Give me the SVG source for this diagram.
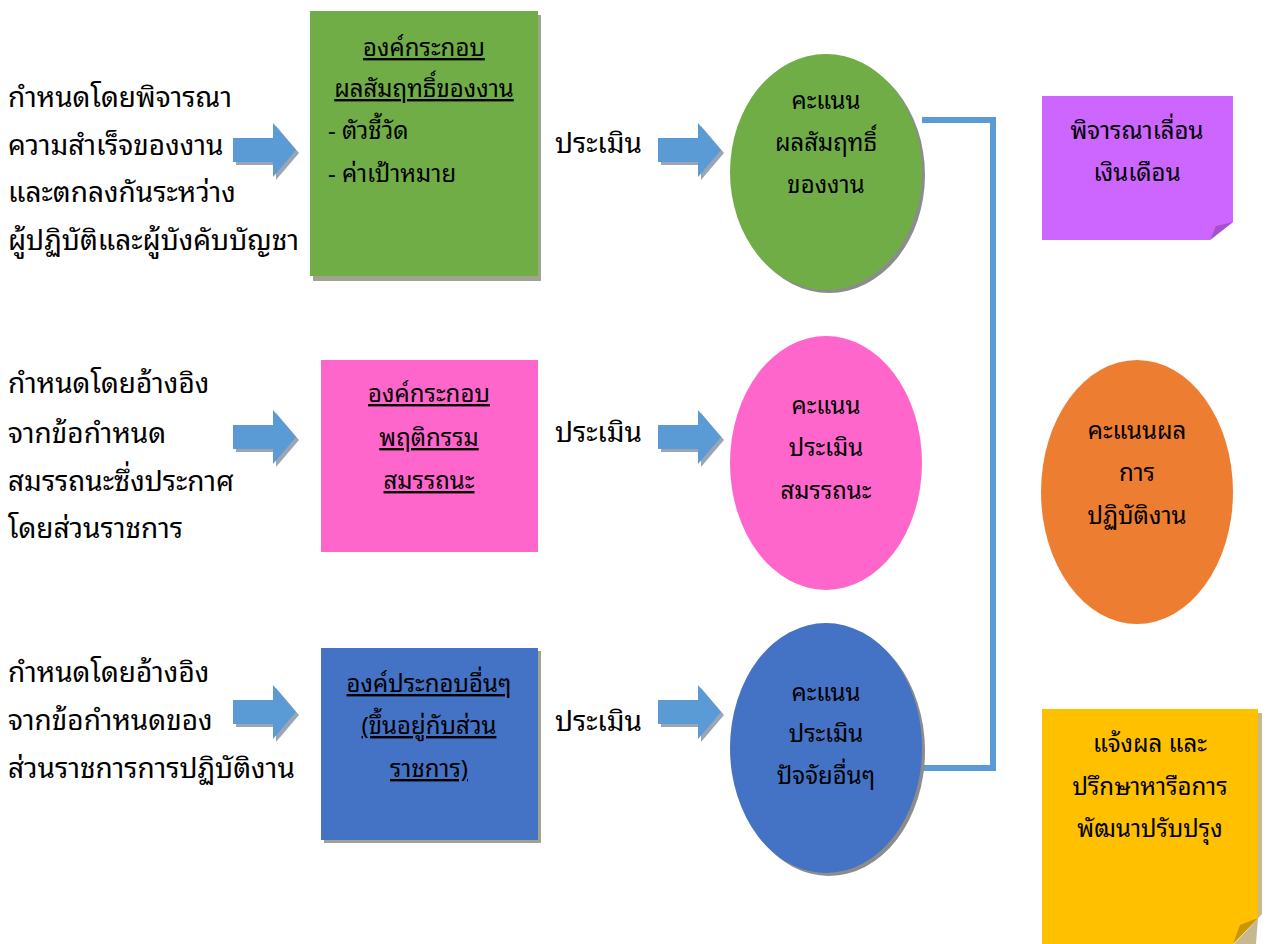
<svg xmlns="http://www.w3.org/2000/svg" width="1268" height="944" viewBox="0 0 1268 944">
<defs>
<style>
text{font-family:"Noto Sans Thai Looped","Loma","Garuda","Tahoma","Noto Sans Thai","Noto Sans","DejaVu Sans",sans-serif;fill:#000}
.l{font-size:28px}
.c{font-size:24px;text-anchor:middle}
.u{text-decoration:underline}
.arrow{fill:#5b9bd5}
.ash{fill:#9aa5b5}
.sh{fill:#a0a48f}
.esh{fill:#8c8c8c}
</style>
<path id="arr" d="M0,-12 H40 V-27 L63,0 L40,27 V12 H0 Z"/>
</defs>
<rect width="1268" height="944" fill="#fff"/>

<g id="connectors">
<polyline points="922,120 993,120 993,768 922,768" fill="none" stroke="#5b9bd5" stroke-width="6"/>
<g id="arrow-l1"><use href="#arr" x="236" y="153" class="ash"/><use href="#arr" x="233" y="150" class="arrow"/></g>
<g id="arrow-m1"><use href="#arr" x="661" y="153" class="ash"/><use href="#arr" x="658" y="150" class="arrow"/></g>
<g id="arrow-l2"><use href="#arr" x="236" y="440" class="ash"/><use href="#arr" x="233" y="437" class="arrow"/></g>
<g id="arrow-m2"><use href="#arr" x="661" y="440" class="ash"/><use href="#arr" x="658" y="437" class="arrow"/></g>
<g id="arrow-l3"><use href="#arr" x="236" y="715" class="ash"/><use href="#arr" x="233" y="712" class="arrow"/></g>
<g id="arrow-m3"><use href="#arr" x="661" y="715" class="ash"/><use href="#arr" x="658" y="712" class="arrow"/></g>
</g>

<g id="text-row1">
<text class="l" x="8" y="107">กำหนดโดยพิจารณา</text>
<text class="l" x="8" y="155">ความสำเร็จของงาน</text>
<text class="l" x="8" y="202">และตกลงกันระหว่าง</text>
<text class="l" x="8" y="250">ผู้ปฏิบัติและผู้บังคับบัญชา</text>
</g>
<g id="text-row2">
<text class="l" x="8" y="393">กำหนดโดยอ้างอิง</text>
<text class="l" x="8" y="443">จากข้อกำหนด</text>
<text class="l" x="8" y="491">สมรรถนะซึ่งประกาศ</text>
<text class="l" x="8" y="538">โดยส่วนราชการ</text>
</g>
<g id="text-row3">
<text class="l" x="8" y="682">กำหนดโดยอ้างอิง</text>
<text class="l" x="8" y="730">จากข้อกำหนดของ</text>
<text class="l" x="8" y="778">ส่วนราชการการปฏิบัติงาน</text>
</g>

<g id="box-green">
<rect x="313" y="15" width="228" height="266" class="sh"/>
<rect x="310" y="11" width="228" height="265" fill="#70ad47"/>
<text class="c u" x="424" y="56">องค์กระกอบ</text>
<text class="c u" x="424" y="97">ผลสัมฤทธิ์ของงาน</text>
<text x="328" y="139" style="font-size:24px">- ตัวชี้วัด</text>
<text x="328" y="182" style="font-size:24px">- ค่าเป้าหมาย</text>
</g>
<g id="box-pink">
<rect x="321" y="360" width="217" height="192" fill="#ff66cc"/>
<text class="c u" x="429" y="402">องค์กระกอบ</text>
<text class="c u" x="429" y="446">พฤติกรรม</text>
<text class="c u" x="429" y="489">สมรรถนะ</text>
</g>
<g id="box-blue">
<rect x="324" y="651" width="217" height="192" class="sh"/>
<rect x="321" y="648" width="217" height="192" fill="#4472c4"/>
<text class="c u" x="429" y="692">องค์ประกอบอื่นๆ</text>
<text class="c u" x="429" y="734">(ขึ้นอยู่กับส่วน</text>
<text class="c u" x="429" y="777">ราชการ)</text>
</g>

<g id="label-eval">
<text class="l" x="555" y="153">ประเมิน</text>
<text class="l" x="555" y="442">ประเมิน</text>
<text class="l" x="555" y="731">ประเมิน</text>
</g>

<g id="ellipse-green">
<ellipse cx="829" cy="175" rx="96" ry="118" class="esh"/>
<ellipse cx="826" cy="172" rx="96" ry="118" fill="#70ad47"/>
<text class="c" x="826" y="109">คะแนน</text>
<text class="c" x="826" y="151">ผลสัมฤทธิ์</text>
<text class="c" x="826" y="193">ของงาน</text>
</g>
<g id="ellipse-pink">
<ellipse cx="826" cy="463" rx="96" ry="127" fill="#ff66cc"/>
<text class="c" x="826" y="414">คะแนน</text>
<text class="c" x="826" y="456">ประเมิน</text>
<text class="c" x="826" y="499">สมรรถนะ</text>
</g>
<g id="ellipse-blue">
<ellipse cx="829" cy="751" rx="96" ry="125" class="esh"/>
<ellipse cx="826" cy="748" rx="96" ry="125" fill="#4472c4"/>
<text class="c" x="826" y="701">คะแนน</text>
<text class="c" x="826" y="742">ประเมิน</text>
<text class="c" x="826" y="784">ปัจจัยอื่นๆ</text>
</g>

<g id="note-purple">
<path d="M1042,96 H1233 V222 L1210,240 H1042 Z" fill="#cc66ff"/>
<path d="M1233,222 L1210,240 L1216,226 Z" fill="#a352cc"/>
<text class="c" x="1137" y="139">พิจารณาเลื่อน</text>
<text class="c" x="1137" y="181">เงินเดือน</text>
</g>
<g id="ellipse-orange">
<ellipse cx="1137" cy="492" rx="96" ry="132" fill="#ed7d31"/>
<text class="c" x="1137" y="439">คะแนนผล</text>
<text class="c" x="1137" y="481">การ</text>
<text class="c" x="1137" y="524">ปฏิบัติงาน</text>
</g>
<g id="note-yellow">
<path d="M1258,713 H1262 V914 L1234,944 H1256 L1258,918 Z" fill="#c8b890"/>
<path d="M1042,709 H1258 V918 L1233,944 H1042 Z" fill="#ffc000"/>
<path d="M1258,918 L1233,944 L1240,925 Z" fill="#c89600"/>
<text class="c" x="1150" y="752">แจ้งผล และ</text>
<text class="c" x="1150" y="795">ปรึกษาหารือการ</text>
<text class="c" x="1150" y="837">พัฒนาปรับปรุง</text>
</g>
</svg>
